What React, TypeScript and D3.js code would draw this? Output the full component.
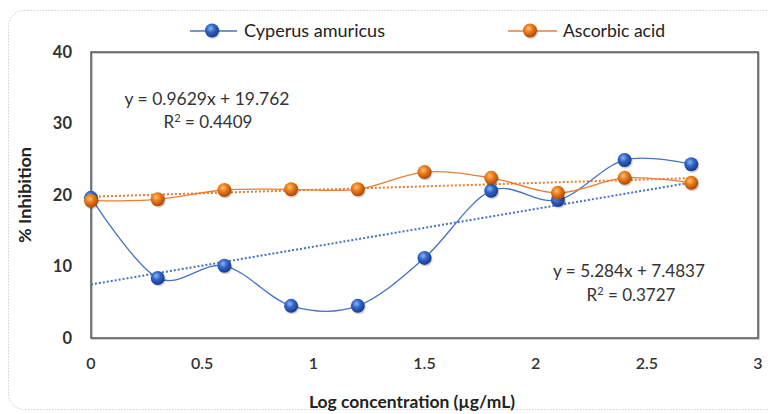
import React from "react";
import * as d3 from "d3";

const xValues = [0, 0.3, 0.6, 0.9, 1.2, 1.5, 1.8, 2.1, 2.4, 2.7];
const cyperus = [19.6, 8.4, 10.1, 4.5, 4.5, 11.2, 20.6, 19.3, 24.9, 24.3];
const ascorbic = [19.2, 19.4, 20.7, 20.8, 20.8, 23.2, 22.4, 20.3, 22.4, 21.7];
const xTicks = [0, 0.5, 1, 1.5, 2, 2.5, 3];
const yTicks = [0, 10, 20, 30, 40];
const trendCyperus = { slope: 5.284, intercept: 7.4837, eq: "y = 5.284x + 7.4837", r2: "0.3727" };
const trendAscorbic = { slope: 0.9629, intercept: 19.762, eq: "y = 0.9629x + 19.762", r2: "0.4409" };
const seriesNames = ["Cyperus amuricus", "Ascorbic acid"];

const W = 768, H = 414;
const left = 91, right = 758, top = 52, bottom = 338;
const font = "Lato, 'Open Sans', sans-serif";
const blue = "#4472c4";
const orange = "#ed7d31";

export default function App() {
  const x = d3.scaleLinear().domain([0, 3]).range([left, right]);
  const y = d3.scaleLinear().domain([0, 40]).range([bottom, top]);
  const line = d3
    .line<number>()
    .x((_, i) => x(xValues[i]))
    .y((d) => y(d))
    .curve(d3.curveCardinal.tension(0));
  const xMin = xValues[0], xMax = xValues[xValues.length - 1];
  const marker = (cx: number, cy: number, grad: string, key: string) => (
    <g key={key}>
      <circle cx={cx + 1} cy={cy + 1.5} r={7} fill="rgba(0,0,0,0.18)" />
      <circle cx={cx} cy={cy} r={7} fill={`url(#${grad})`} />
    </g>
  );
  return (
    <svg
      width={W}
      height={H}
      style={{ position: "fixed", left: 0, top: 0, background: "#fff" }}
    >
      <defs>
        <radialGradient id="gb" cx="40%" cy="35%" r="65%">
          <stop offset="0%" stopColor="#8fb4f0" />
          <stop offset="45%" stopColor="#2f66c8" />
          <stop offset="100%" stopColor="#17398a" />
        </radialGradient>
        <radialGradient id="go" cx="40%" cy="35%" r="65%">
          <stop offset="0%" stopColor="#ffc27a" />
          <stop offset="45%" stopColor="#ec7a16" />
          <stop offset="100%" stopColor="#a8480a" />
        </radialGradient>
      </defs>
      <rect
        x={8.5}
        y={10.5}
        width={780}
        height={399}
        rx={16}
        fill="none"
        stroke="#d0d0d0"
        strokeDasharray="1.5,1.5"
      />
      {/* legend */}
      <line x1={190} x2={237} y1={31} y2={31} stroke={blue} strokeWidth={1.5} />
      {marker(212, 30.5, "gb", "lb")}
      <text x={244} y={37} fontFamily={font} fontSize={17.5} fill="#222" textLength={141} lengthAdjust="spacingAndGlyphs">
        {seriesNames[0]}
      </text>
      <line x1={508} x2={557} y1={31} y2={31} stroke={orange} strokeWidth={1.5} />
      {marker(530, 30.5, "go", "lo")}
      <text x={563} y={37} fontFamily={font} fontSize={17.5} fill="#222" textLength={102} lengthAdjust="spacingAndGlyphs">
        {seriesNames[1]}
      </text>
      {/* frame */}
      <rect
        x={left + 1}
        y={top + 1}
        width={right - left}
        height={bottom - top}
        fill="none"
        stroke="#bbb"
        strokeWidth={1.5}
      />
      <rect
        x={left}
        y={top}
        width={right - left}
        height={bottom - top}
        fill="none"
        stroke="#555"
        strokeWidth={1.5}
      />
      {/* y ticks */}
      {yTicks.map((t) => (
        <text
          key={"y" + t}
          x={72}
          y={y(t)}
          dy="0.35em"
          textAnchor="end"
          fontFamily={font}
          fontWeight={700}
          fontSize={16.5}
          fill="#333"
        >
          {t}
        </text>
      ))}
      {xTicks.map((t) => (
        <text
          key={"x" + t}
          x={x(t)}
          y={369}
          textAnchor="middle"
          fontFamily={font}
          fontWeight={600}
          fontSize={16}
          fill="#333"
        >
          {t}
        </text>
      ))}
      <text
        x={412}
        y={408}
        textAnchor="middle"
        fontFamily={font}
        fontWeight={700}
        fontSize={17}
        fill="#222"
        textLength={206}
        lengthAdjust="spacingAndGlyphs"
      >
        Log concentration (µg/mL)
      </text>
      <text
        transform={`translate(31,${(top + bottom) / 2}) rotate(-90)`}
        textAnchor="middle"
        fontFamily={font}
        fontWeight={700}
        fontSize={17}
        fill="#222"
        textLength={96}
        lengthAdjust="spacingAndGlyphs"
      >
        % Inhibition
      </text>
      {/* trendlines */}
      <line
        x1={x(xMin)}
        x2={x(xMax)}
        y1={y(trendAscorbic.intercept + trendAscorbic.slope * xMin)}
        y2={y(trendAscorbic.intercept + trendAscorbic.slope * xMax)}
        stroke={orange}
        strokeWidth={2}
        strokeDasharray="2,2"
      />
      <line
        x1={x(xMin)}
        x2={x(xMax)}
        y1={y(trendCyperus.intercept + trendCyperus.slope * xMin)}
        y2={y(trendCyperus.intercept + trendCyperus.slope * xMax)}
        stroke={blue}
        strokeWidth={2}
        strokeDasharray="2,2"
      />
      {/* series lines */}
      <path d={line(cyperus) || ""} fill="none" stroke={blue} strokeWidth={1.3} />
      <path d={line(ascorbic) || ""} fill="none" stroke={orange} strokeWidth={1.3} />
      {cyperus.map((v, i) => marker(x(xValues[i]), y(v), "gb", "b" + i))}
      {ascorbic.map((v, i) => marker(x(xValues[i]), y(v), "go", "o" + i))}
      {/* equations */}
      <text x={207} y={105} textAnchor="middle" fontFamily={font} fontSize={17} fill="#333" textLength={165} lengthAdjust="spacingAndGlyphs">
        {trendAscorbic.eq}
      </text>
      <text x={208} y={128} textAnchor="middle" fontFamily={font} fontSize={17} fill="#333">
        R<tspan dy={-6} fontSize={11}>2</tspan>
        <tspan dy={6}> = {trendAscorbic.r2}</tspan>
      </text>
      <text x={629} y={277} textAnchor="middle" fontFamily={font} fontSize={17} fill="#333" textLength={152} lengthAdjust="spacingAndGlyphs">
        {trendCyperus.eq}
      </text>
      <text x={631} y={301} textAnchor="middle" fontFamily={font} fontSize={17} fill="#333">
        R<tspan dy={-6} fontSize={11}>2</tspan>
        <tspan dy={6}> = {trendCyperus.r2}</tspan>
      </text>
    </svg>
  );
}
